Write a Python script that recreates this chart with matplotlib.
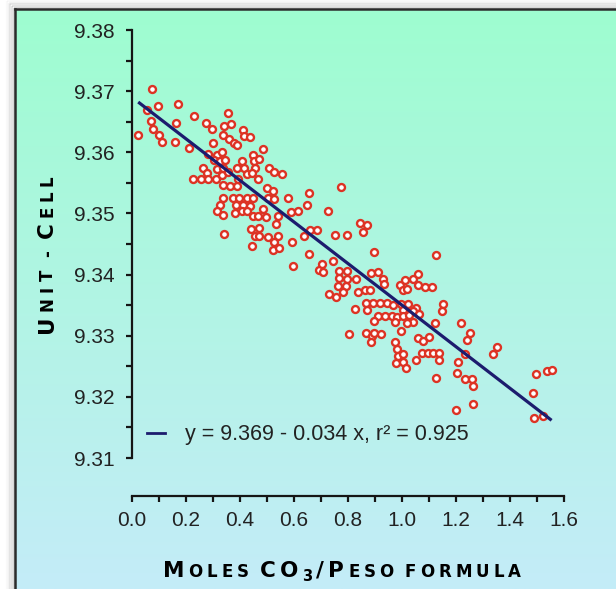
import numpy as np
import matplotlib
matplotlib.use("Agg")
import matplotlib.pyplot as plt
from matplotlib.lines import Line2D
from matplotlib.colors import to_rgb
from matplotlib.ticker import MultipleLocator, FormatStrFormatter

# ---------------- data ----------------
x_low = [0.075, 0.023, 0.054, 0.097, 0.070, 0.079, 0.101, 0.110, 0.171, 0.163, 0.159, 0.212,
         0.231, 0.274, 0.295, 0.357, 0.342, 0.366, 0.301, 0.338, 0.358, 0.379, 0.390, 0.410,
         0.415, 0.437, 0.486, 0.283, 0.314, 0.334, 0.305, 0.326, 0.344, 0.264, 0.279, 0.225,
         0.254, 0.283, 0.311, 0.314, 0.334, 0.338, 0.357, 0.336, 0.363, 0.388, 0.394, 0.388,
         0.406, 0.415, 0.425, 0.449, 0.453, 0.471, 0.468, 0.456, 0.443, 0.499, 0.523, 0.509,
         0.526, 0.554]
y_low = [9.3703, 9.3629, 9.3669, 9.3676, 9.3651, 9.3638, 9.3629, 9.3617, 9.3679, 9.3648, 9.3617, 9.3607,
         9.3659, 9.3648, 9.3638, 9.3665, 9.3643, 9.3646, 9.3616, 9.3628, 9.3621, 9.3616, 9.3612, 9.3636,
         9.3627, 9.3625, 9.3605, 9.3598, 9.3596, 9.3601, 9.3587, 9.3585, 9.3587, 9.3575, 9.3566, 9.3556,
         9.3556, 9.3556, 9.3556, 9.3572, 9.3563, 9.3575, 9.3567, 9.3546, 9.3545, 9.3545, 9.3556, 9.3575,
         9.3586, 9.3575, 9.3564, 9.3596, 9.3586, 9.3589, 9.3556, 9.3575, 9.3566, 9.3541, 9.3537, 9.3575,
         9.3567, 9.3564]

x_mid1 = [0.336, 0.326, 0.314, 0.336, 0.375, 0.397, 0.425, 0.447, 0.385, 0.412, 0.437, 0.381,
          0.406, 0.425, 0.447, 0.468, 0.496, 0.486, 0.503, 0.527, 0.533, 0.542, 0.577, 0.589,
          0.616, 0.649, 0.656, 0.342, 0.441, 0.471, 0.456, 0.471, 0.503, 0.542, 0.527, 0.523,
          0.546, 0.591, 0.443, 0.638, 0.659, 0.684, 0.657, 0.597, 0.694, 0.774]
y_mid1 = [9.3526, 9.3514, 9.3504, 9.3497, 9.3526, 9.3526, 9.3526, 9.3526, 9.3514, 9.3514, 9.3512, 9.3501,
          9.3504, 9.3504, 9.3496, 9.3496, 9.3494, 9.3508, 9.3525, 9.3523, 9.3483, 9.3496, 9.3525, 9.3503,
          9.3504, 9.3514, 9.3533, 9.3466, 9.3474, 9.3476, 9.3463, 9.3463, 9.3461, 9.3463, 9.3454, 9.3441,
          9.3443, 9.3454, 9.3447, 9.3463, 9.3473, 9.3473, 9.3434, 9.3414, 9.3407, 9.3543]

x_mid2 = [0.727, 0.844, 0.871, 0.854, 0.752, 0.797, 0.896, 1.125, 0.746, 0.703, 0.706, 0.768,
          0.795, 0.768, 0.795, 0.830, 0.764, 0.791, 0.756, 0.731, 0.780, 0.884, 0.912, 0.929,
          0.934, 0.838, 0.863, 0.881, 0.993, 1.011, 1.040, 1.058, 1.060, 1.085, 1.110, 1.003,
          1.017, 0.826, 0.867, 0.894, 0.919, 0.943, 0.966, 0.869, 0.912, 0.937, 0.962, 0.980,
          0.896, 0.995, 1.023, 1.052, 1.040, 1.003, 1.005, 1.027, 1.064, 1.042, 1.017, 0.974]
y_mid2 = [9.3504, 9.3484, 9.3481, 9.3470, 9.3464, 9.3464, 9.3437, 9.3432, 9.3422, 9.3417, 9.3405, 9.3406,
          9.3406, 9.3394, 9.3393, 9.3392, 9.3382, 9.3381, 9.3364, 9.3368, 9.3372, 9.3403, 9.3405, 9.3392,
          9.3385, 9.3372, 9.3374, 9.3375, 9.3383, 9.3391, 9.3393, 9.3401, 9.3383, 9.3379, 9.3380, 9.3375,
          9.3376, 9.3343, 9.3353, 9.3353, 9.3353, 9.3353, 9.3350, 9.3342, 9.3332, 9.3332, 9.3332, 9.3331,
          9.3324, 9.3352, 9.3352, 9.3346, 9.3341, 9.3342, 9.3332, 9.3334, 9.3335, 9.3323, 9.3321, 9.3322]

x_high = [1.151, 1.147, 1.122, 1.217, 0.805, 0.867, 0.888, 0.896, 0.921, 0.884, 0.995, 1.058,
          1.079, 1.100, 1.252, 1.240, 0.974, 0.980, 0.986, 1.003, 0.978, 1.005, 1.015, 1.051,
          1.073, 1.097, 1.116, 1.138, 1.138, 1.233, 1.209, 1.338, 1.351, 1.126, 1.203, 1.233,
          1.258, 1.264, 1.262, 1.200, 1.496, 1.538, 1.554, 1.484, 1.489, 1.523]
y_high = [9.3352, 9.3340, 9.3320, 9.3320, 9.3303, 9.3304, 9.3300, 9.3304, 9.3302, 9.3290, 9.3307, 9.3297,
          9.3292, 9.3298, 9.3304, 9.3293, 9.3289, 9.3278, 9.3267, 9.3270, 9.3256, 9.3257, 9.3247, 9.3261,
          9.3271, 9.3271, 9.3272, 9.3272, 9.3260, 9.3270, 9.3257, 9.3270, 9.3282, 9.3231, 9.3239, 9.3230,
          9.3230, 9.3218, 9.3189, 9.3178, 9.3237, 9.3242, 9.3244, 9.3207, 9.3165, 9.3169]

fit_intercept = 9.369
fit_slope = -0.034
fit_r2 = 0.925

x_ticks = [0.0, 0.2, 0.4, 0.6, 0.8, 1.0, 1.2, 1.4, 1.6]
y_ticks = [9.31, 9.32, 9.33, 9.34, 9.35, 9.36, 9.37, 9.38]

# ---------------- figure ----------------
W, H = 616, 589
fig = plt.figure(figsize=(W / 100, H / 100), dpi=100, facecolor="white")

# background panel with gradient, border and shadow
bg = fig.add_axes([0, 0, 1, 1], zorder=-10)
bg.set_xlim(0, W)
bg.set_ylim(H, 0)
bg.axis("off")
c_top = np.array(to_rgb("#9efdd0"))
c_bot = np.array(to_rgb("#c4ecf8"))
t = np.linspace(0, 1, 256)[:, None, None]
grad = c_top * (1 - t) + c_bot * t
bg.imshow(grad, extent=[15, W, H, 9], aspect="auto", origin="upper", interpolation="bilinear")
for k, a in enumerate([0.22, 0.15, 0.10, 0.06, 0.03]):
    off = 1.5 + k * 1.6
    bg.plot([15 - off, 15 - off], [H, 9 - off], color="#555555", lw=1.6, alpha=a, solid_capstyle="butt")
    bg.plot([15 - off, W], [9 - off, 9 - off], color="#555555", lw=1.6, alpha=a, solid_capstyle="butt")
bg.plot([15, 15], [H, 9], color="#2b2b2b", lw=1.8, solid_capstyle="projecting")
bg.plot([15, W], [9, 9], color="#2b2b2b", lw=1.8, solid_capstyle="projecting")

# main axes
ax_l, ax_r, ax_t, ax_b = 132, 564, 30, 458
ax = fig.add_axes([ax_l / W, (H - ax_b) / H, (ax_r - ax_l) / W, (ax_b - ax_t) / H])
ax.patch.set_alpha(0)
ax.set_xlim(0, 1.6)
ax.set_ylim(9.31, 9.38)

xs = np.concatenate([x_low, x_mid1, x_mid2, x_high])
ys = np.concatenate([y_low, y_mid1, y_mid2, y_high])
ax.plot(xs, ys, linestyle="none", marker="o", markersize=5.0, markerfacecolor="white",
        markeredgecolor="#dd3324", markeredgewidth=1.7, clip_on=False, zorder=3)

xf = np.array([xs.min(), xs.max()])
ax.plot(xf, fit_intercept + fit_slope * xf, color="#1c1c6e", lw=2.3, zorder=4,
        solid_capstyle="butt")

for s in ["top", "right"]:
    ax.spines[s].set_visible(False)
ax.spines["bottom"].set_position(("outward", 27.5))
for s in ["left", "bottom"]:
    ax.spines[s].set_linewidth(1.6)
    ax.spines[s].set_color("#151515")

ax.set_xticks(x_ticks)
ax.set_yticks(y_ticks)
ax.xaxis.set_minor_locator(MultipleLocator(0.1))
ax.yaxis.set_minor_locator(MultipleLocator(0.005))
ax.xaxis.set_major_formatter(FormatStrFormatter("%.1f"))
ax.yaxis.set_major_formatter(FormatStrFormatter("%.2f"))
ax.tick_params(which="both", direction="out", length=4.5, width=1.6, color="#151515")
ax.tick_params(axis="y", which="major", pad=8)
ax.tick_params(axis="x", which="major", pad=6)
for lab in ax.get_xticklabels() + ax.get_yticklabels():
    lab.set_fontfamily("Liberation Sans")
    lab.set_fontsize(15)
    lab.set_color("#222222")

handle = Line2D([], [], color="#1c1c6e", lw=2.0)
label = "y = %.3f - %.3f x, r\u00b2 = %.3f" % (fit_intercept, -fit_slope, fit_r2)
leg = ax.legend([handle], [label], loc="center left", bbox_to_anchor=(0.035, 0.054),
                frameon=False, borderpad=0, borderaxespad=0, handlelength=0.85,
                handletextpad=0.9, prop={"family": "Liberation Sans", "size": 15.5})
for txt in leg.get_texts():
    txt.set_color("#222222")

# ---------------- small-caps axis titles (wide look) ----------------
renderer = fig.canvas.get_renderer()
FAM = "DejaVu Sans"


def small_caps(pieces, cx, cy, target, word_gap, vertical=False):
    """pieces: (text, size, dy_px); ' ' inside text = word gap. Letters are tracked
    so the whole title spans `target` pixels."""
    glyphs = []
    for txt, size, dy in pieces:
        for ch in txt:
            glyphs.append((ch, size, dy))
    widths = []
    for ch, size, dy in glyphs:
        if ch == " ":
            widths.append(word_gap)
            continue
        tt = fig.text(0, 0, ch, fontsize=size, family=FAM, weight="bold")
        widths.append(tt.get_window_extent(renderer).width)
        tt.remove()
    n_gaps = len(glyphs) - 1
    track = max(0.0, (target - sum(widths)) / n_gaps)
    pos = -target / 2.0
    for (ch, size, dy), w in zip(glyphs, widths):
        if ch != " ":
            if vertical:
                fig.text(cx / W, 1 - (cy - pos) / H, ch, fontsize=size, family=FAM, weight="bold",
                         rotation=90, rotation_mode="anchor", ha="left", va="baseline",
                         color="black")
            else:
                fig.text((cx + pos) / W, 1 - (cy + dy) / H, ch, fontsize=size, family=FAM,
                         weight="bold", ha="left", va="baseline", color="black")
        pos += w + track


BIG, SMALL = 15.5, 12.0
small_caps([("U", BIG, 0), ("NIT - ", SMALL, 0), ("C", BIG, 0), ("ELL", SMALL, 0)],
           53, 254, target=158, word_gap=3, vertical=True)
small_caps([("M", BIG, 0), ("OLES ", SMALL, 0), ("CO", BIG, 0), ("3", 10.5, 4),
            ("/", BIG, 0), ("P", BIG, 0), ("ESO FORMULA", SMALL, 0)],
           342, 577, target=358, word_gap=3)

fig.savefig("out.png", dpi=100, facecolor="white")
